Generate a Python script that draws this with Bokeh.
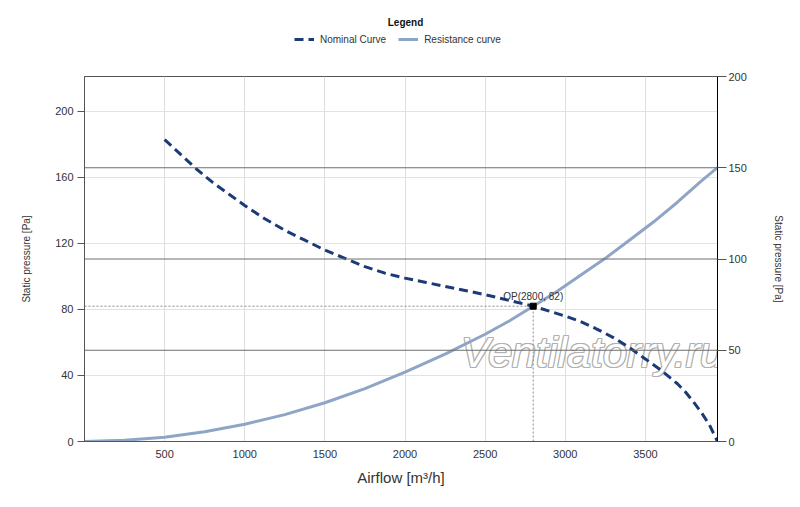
from bokeh.plotting import figure
from bokeh.models import (Range1d, LinearAxis, FixedTicker, Span, Legend, LegendItem,
                          ColumnDataSource, Label)
from bokeh.layouts import column
from bokeh.core.properties import value
from bokeh.embed import file_html
from bokeh.resources import INLINE

# ---- data ----
nominal_flow = [500, 600, 700, 800, 900, 1000, 1125, 1250, 1375, 1500, 1625, 1750, 1875,
                2000, 2125, 2250, 2375, 2500, 2650, 2800, 2900, 3000, 3100, 3200, 3300,
                3400, 3500, 3600, 3700, 3750, 3800, 3850, 3900, 3950]
nominal_pressure = [183, 174, 165, 157, 150, 143, 135, 128, 122, 116, 111, 106, 102,
                    99, 96.5, 94, 91.5, 89, 85.5, 82, 79, 76, 72.5, 68, 63,
                    57, 50, 43, 35, 30, 24, 17.5, 10, 0]

resistance_flow = [0, 250, 500, 750, 1000, 1250, 1500, 1750, 2000, 2250, 2500,
                   2650, 2800, 2950, 3100, 3250, 3400, 3550, 3700, 3850, 3950]
resistance_pressure = [0, 0.7, 2.6, 5.9, 10.5, 16.3, 23.5, 32, 42, 53, 65,
                       73, 82, 91, 101, 111, 122, 133, 145, 158, 166]

op_flow = 2800
op_pressure = 82
op_label = "OP(2800, 82)"

x_ticks = [500, 1000, 1500, 2000, 2500, 3000, 3500]
left_ticks = [0, 40, 80, 120, 160, 200]
right_ticks = [0, 50, 100, 150, 200]

series_names = ["Nominal Curve", "Resistance curve"]
legend_title = "Legend"
watermark = "Ventilatorry.ru"

FONT = "Liberation Sans"
TXT = "#333333"
NOM_COLOR = "#1b3a78"
RES_COLOR = "#8fa5c6"

W = 795

# ---------- main chart ----------
p = figure(frame_width=633, frame_height=365,
           x_range=Range1d(0, 3950), y_range=Range1d(0, 221.2),
           output_backend="svg", toolbar_location=None,
           min_border_left=84, min_border_right=78, min_border_top=8, min_border_bottom=62,
           background_fill_color="white", border_fill_color="white")
p.extra_y_ranges = {"right": Range1d(0, 200)}
p.outline_line_color = "#555555"
p.outline_line_width = 1

p.xgrid.ticker = FixedTicker(ticks=x_ticks)
p.ygrid.ticker = FixedTicker(ticks=left_ticks[1:])
p.xgrid.grid_line_color = "#dedede"
p.ygrid.grid_line_color = "#e2e2e2"

# watermark (outlined effect)
wm_dx = [-1, 1, 0, 0, -1, 1, -1, 1, 0]
wm_dy = [0, 0, -1, 1, -1, -1, 1, 1, 0]
wm_col = ["#b0b0b0"] * 8 + ["#ffffff"]
wm_src = ColumnDataSource(dict(x=[3170] * 9, y=[54] * 9, t=[watermark] * 9,
                               dx=wm_dx, dy=wm_dy, c=wm_col))
p.text(x="x", y="y", text="t", x_offset="dx", y_offset="dy", text_color="c",
       source=wm_src, text_font=value(FONT), text_font_size="43px",
       text_font_style="italic", text_align="center", text_baseline="middle")

for v in right_ticks[1:-1]:
    p.add_layout(Span(location=v, dimension="width", y_range_name="right",
                      line_color="#6e6e6e", line_width=1))

p.segment(x0=[0, op_flow], y0=[op_pressure, 0], x1=[op_flow, op_flow], y1=[op_pressure, op_pressure],
          line_color="#8a8a8a", line_width=1, line_dash="2 2")

p.line(resistance_flow, resistance_pressure, line_color=RES_COLOR, line_width=3)
p.line(nominal_flow, nominal_pressure, line_color=NOM_COLOR, line_width=3, line_dash="9 5")

p.scatter([op_flow], [op_pressure], marker="square", size=6, color="black")
p.text([op_flow], [op_pressure], text=[op_label], text_font=value(FONT), text_font_size="10px",
       text_color=TXT, text_align="center", text_baseline="bottom", y_offset=-4)

la = p.left[0]
la.ticker = FixedTicker(ticks=left_ticks)
la.axis_label = "Static pressure [Pa]"

ba = p.below[0]
ba.ticker = FixedTicker(ticks=x_ticks)
ba.axis_label = "Airflow [m³/h]"

ra = LinearAxis(y_range_name="right", ticker=FixedTicker(ticks=right_ticks),
                axis_label="Static pressure [Pa]")
p.add_layout(ra, "right")

for ax in (la, ba, ra):
    ax.minor_tick_line_color = None
    ax.major_tick_in = 0
    ax.major_label_text_font = FONT
    ax.major_label_text_font_size = "11px"
    ax.major_label_text_color = TXT
    ax.axis_label_text_font = FONT
    ax.axis_label_text_font_style = "normal"
    ax.axis_label_text_color = TXT
    ax.axis_line_color = "#555555"
    ax.major_tick_line_color = "#555555"

la.major_tick_out = 7
la.major_label_standoff = 4
la.axis_label_text_font_size = "10px"
la.axis_label_standoff = 20

ra.major_tick_out = 9
ra.major_label_standoff = 2
ra.axis_label_text_font_size = "10px"
ra.axis_label_standoff = 23
ra.axis_line_color = "black"

ba.major_tick_out = 0
ba.major_label_standoff = 8
ba.axis_label_text_font_size = "15px"
ba.axis_label_standoff = 8

# ---------- legend strip (frame aligned with the chart frame by the column) ----------
top = figure(width=W, height=68, x_range=Range1d(0, 633), y_range=Range1d(0, 68),
             x_axis_type=None, y_axis_type=None, min_border=0,
             output_backend="svg", toolbar_location=None,
             background_fill_color="white", border_fill_color="white")
top.outline_line_color = None
top.grid.visible = False
nan = float("nan")
l_nom = top.line(x=[nan], y=[nan], line_color=NOM_COLOR, line_width=3, line_dash="9 5")
l_res = top.line(x=[nan], y=[nan], line_color=RES_COLOR, line_width=3)
legend = Legend(items=[LegendItem(label=series_names[0], renderers=[l_nom]),
                       LegendItem(label=series_names[1], renderers=[l_res])],
                orientation="horizontal", location=(210, 23), padding=0, margin=0,
                spacing=12, glyph_width=20, glyph_height=12, label_height=12,
                label_standoff=6, border_line_color=None, background_fill_alpha=0,
                label_text_font=FONT, label_text_font_size="10px", label_text_color=TXT)
top.add_layout(legend)
top.add_layout(Label(x=321, y=46, x_units="screen", y_units="screen", text=legend_title,
                     text_font=FONT, text_font_size="10px", text_font_style="bold",
                     text_color="#111111", text_align="center", text_baseline="middle"))

layout = column(top, p, spacing=0)
open("out.html", "w").write(file_html(layout, INLINE))
